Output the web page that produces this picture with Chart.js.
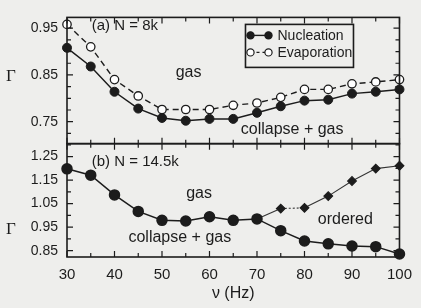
<!DOCTYPE html>
<html>
<head>
<meta charset="utf-8">
<script src="https://cdn.jsdelivr.net/npm/chart.js@4/dist/chart.umd.min.js"></script>
<style>
  html, body { margin: 0; padding: 0; background: #eeeeec; }
  #wrap { width: 421px; height: 308px; }
</style>
</head>
<body>
<div id="wrap"><canvas id="phaseChart" width="421" height="308"></canvas></div>
<script>
// frequencies (Hz)
const freq = [30, 35, 40, 45, 50, 55, 60, 65, 70, 75, 80, 85, 90, 95, 100];
// (a) N = 8k
const nucleation8k = [0.908, 0.868, 0.814, 0.778, 0.758, 0.752, 0.756, 0.756, 0.769, 0.783, 0.795, 0.797, 0.810, 0.814, 0.819];
const evaporation8k = [0.958, 0.910, 0.840, 0.805, 0.776, 0.776, 0.776, 0.785, 0.790, 0.802, 0.819, 0.819, 0.831, 0.835, 0.840];
// (b) N = 14.5k
const collapse14k = [1.198, 1.171, 1.087, 1.017, 0.979, 0.976, 0.994, 0.979, 0.985, 0.935, 0.891, 0.879, 0.870, 0.867, 0.836];
const orderedFreq = [70, 75, 80, 85, 90, 95, 100];
const ordered14k = [0.985, 1.029, 1.032, 1.082, 1.146, 1.199, 1.211];

const xTicks = [30, 40, 50, 60, 70, 80, 90, 100];
const yTicksTop = [0.75, 0.85, 0.95];
const yTicksBottom = [0.85, 0.95, 1.05, 1.15, 1.25];

const ink = '#1c1c1c';
const pts = (xs, ys) => xs.map((x, i) => ({ x: x, y: ys[i] }));

// frame, inward ticks, labels, legend
const panelDecor = {
    id: 'panelDecor',
    afterDraw(chart) {
        const ctx = chart.ctx;
        const x = chart.scales.x;
        const area = chart.chartArea;
        ctx.save();
        ctx.strokeStyle = ink;
        ctx.fillStyle = ink;

        const panels = [
            { s: chart.scales.yt, step: 0.025, major: yTicksTop },
            { s: chart.scales.yb, step: 0.05, major: yTicksBottom }
        ];
        panels.forEach(p => {
            const top = p.s.top, bot = p.s.bottom;
            ctx.lineWidth = 1.6;
            ctx.strokeRect(area.left, top, area.right - area.left, bot - top);
            ctx.lineWidth = 1.2;
            ctx.beginPath();
            for (let v = 30; v <= 100; v += 5) {
                const px = x.getPixelForValue(v);
                const len = v % 10 === 0 ? 6 : 4;
                ctx.moveTo(px, top); ctx.lineTo(px, top + len);
                ctx.moveTo(px, bot); ctx.lineTo(px, bot - len);
            }
            const start = Math.ceil(p.s.min / p.step - 1e-6);
            for (let k = start; k * p.step <= p.s.max + 1e-9; k++) {
                const v = k * p.step;
                const py = p.s.getPixelForValue(v);
                const isMajor = p.major.some(m => Math.abs(m - v) < 1e-6);
                const len = isMajor ? 6 : 4;
                ctx.moveTo(area.left, py); ctx.lineTo(area.left + len, py);
                ctx.moveTo(area.right, py); ctx.lineTo(area.right - len, py);
            }
            ctx.stroke();

            // Gamma label
            ctx.font = '17px "Liberation Serif", serif';
            ctx.textAlign = 'center';
            ctx.textBaseline = 'middle';
            ctx.fillText('Γ', 11, p.s.getPixelForValue(p.major[1]) + 2);
        });

        const yt = chart.scales.yt, yb = chart.scales.yb;
        const label = (txt, vx, vy, scale, align, size) => {
            ctx.font = size + 'px "Liberation Sans", Arial, sans-serif';
            ctx.textAlign = align;
            ctx.textBaseline = 'middle';
            ctx.fillText(txt, x.getPixelForValue(vx), scale.getPixelForValue(vy));
        };
        label('(a) N = 8k', 35.2, 0.954, yt, 'left', 15);
        label('gas', 55.6, 0.855, yt, 'center', 16);
        label('collapse + gas', 77.4, 0.733, yt, 'center', 16);
        label('(b) N = 14.5k', 35.2, 1.229, yb, 'left', 15);
        label('gas', 57.8, 1.094, yb, 'center', 16);
        label('collapse + gas', 53.75, 0.904, yb, 'center', 16);
        label('ordered', 88.6, 0.984, yb, 'center', 16);

        // legend box
        const lx = area.right - 154, ly = area.top + 7;
        ctx.lineWidth = 1.6;
        ctx.strokeRect(lx, ly, 108, 43);
        ctx.font = '14px "Liberation Sans", Arial, sans-serif';
        ctx.textAlign = 'left';
        const rows = [
            { ds: chart.data.datasets[0], y: ly + 11 },
            { ds: chart.data.datasets[1], y: ly + 28 }
        ];
        rows.forEach(r => {
            ctx.lineWidth = 1.4;
            ctx.setLineDash(r.ds.borderDash ? [3, 3] : []);
            ctx.beginPath();
            ctx.moveTo(lx + 5, r.y); ctx.lineTo(lx + 23, r.y);
            ctx.stroke();
            ctx.setLineDash([]);
            [lx + 5, lx + 23].forEach(cx => {
                ctx.beginPath();
                ctx.arc(cx, r.y, 3.6, 0, Math.PI * 2);
                ctx.fillStyle = r.ds.pointBackgroundColor;
                ctx.fill();
                ctx.lineWidth = 1.2;
                ctx.stroke();
            });
            ctx.fillStyle = ink;
            ctx.fillText(r.ds.label, lx + 32, r.y + 1);
        });
        ctx.restore();
    }
};

const tickFont = { family: '"Liberation Sans", Arial, sans-serif', size: 14 };

new Chart(document.getElementById('phaseChart').getContext('2d'), {
    type: 'line',
    data: {
        datasets: [{
            label: 'Nucleation',
            data: pts(freq, nucleation8k),
            yAxisID: 'yt',
            clip: false,
            borderColor: ink,
            borderWidth: 1.5,
            pointRadius: 4.5,
            pointBackgroundColor: ink,
            pointBorderColor: ink,
            pointBorderWidth: 1
        }, {
            label: 'Evaporation',
            data: pts(freq, evaporation8k),
            yAxisID: 'yt',
            clip: false,
            borderColor: ink,
            borderWidth: 1.4,
            borderDash: [6, 4],
            pointRadius: 4.2,
            pointBackgroundColor: '#ffffff',
            pointBorderColor: ink,
            pointBorderWidth: 1.3
        }, {
            label: 'Collapse',
            data: pts(freq, collapse14k),
            yAxisID: 'yb',
            clip: false,
            borderColor: ink,
            borderWidth: 1.5,
            pointRadius: 5,
            pointBackgroundColor: ink,
            pointBorderColor: ink
        }, {
            label: 'Ordered',
            data: pts(orderedFreq, ordered14k),
            yAxisID: 'yb',
            clip: false,
            borderColor: '#333333',
            borderWidth: 1.1,
            pointStyle: 'rectRot',
            pointRadius: 4.4,
            pointBackgroundColor: ink,
            pointBorderColor: ink,
            segment: {
                borderDash: c => c.p0DataIndex === 1 ? [2, 2] : undefined
            }
        }]
    },
    options: {
        responsive: false,
        animation: false,
        layout: { padding: { top: 16, right: 15, bottom: 0, left: 0 } },
        plugins: { legend: { display: false }, tooltip: { enabled: false } },
        scales: {
            x: {
                type: 'linear',
                min: 30,
                max: 100,
                grid: { display: false, drawTicks: false },
                border: { display: false },
                afterBuildTicks: s => { s.ticks = xTicks.map(v => ({ value: v })); },
                afterFit: s => { s.height = 51; },
                ticks: {
                    padding: 9,
                    autoSkip: false,
                    maxRotation: 0,
                    color: ink,
                    font: { family: '"Liberation Sans", Arial, sans-serif', size: 15 }
                },
                title: {
                    display: true,
                    text: 'ν (Hz)',
                    color: ink,
                    padding: { top: 0, bottom: 5 },
                    font: { family: '"Liberation Sans", Arial, sans-serif', size: 16 }
                }
            },
            yb: {
                type: 'linear',
                position: 'left',
                stack: 'panels',
                stackWeight: 114,
                min: 0.823,
                max: 1.305,
                grid: { display: false, drawTicks: false },
                border: { display: false },
                afterBuildTicks: s => { s.ticks = yTicksBottom.map(v => ({ value: v })); },
                afterFit: s => { s.width = 67; },
                ticks: { padding: 9, autoSkip: false, color: ink, font: tickFont, callback: v => v.toFixed(2) }
            },
            yt: {
                type: 'linear',
                position: 'left',
                stack: 'panels',
                stackWeight: 127,
                min: 0.703,
                max: 0.973,
                grid: { display: false, drawTicks: false },
                border: { display: false },
                afterBuildTicks: s => { s.ticks = yTicksTop.map(v => ({ value: v })); },
                afterFit: s => { s.width = 67; },
                ticks: { padding: 9, autoSkip: false, color: ink, font: tickFont, callback: v => v.toFixed(2) }
            }
        }
    },
    plugins: [panelDecor]
});
</script>
</body>
</html>
